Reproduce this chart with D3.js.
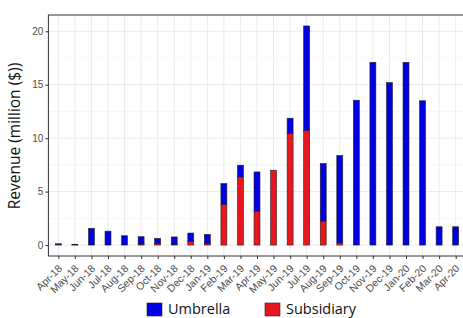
<!DOCTYPE html>
<html><head><meta charset="utf-8">
<script src="https://cdn.jsdelivr.net/npm/d3@7"></script>
<style>body{margin:0;background:#fff}svg{display:block}</style>
</head><body>
<svg id="c" width="463" height="318"></svg>
<script>
const months = ["Apr-18","May-18","Jun-18","Jul-18","Aug-18","Sep-18","Oct-18","Nov-18","Dec-18","Jan-19","Feb-19","Mar-19","Apr-19","May-19","Jun-19","Jul-19","Aug-19","Sep-19","Oct-19","Nov-19","Dec-19","Jan-20","Feb-20","Mar-20","Apr-20"];
const subsidiary = [0.04,0.02,0,0,0,0.1,0.15,0.06,0.32,0.15,3.8,6.37,3.17,7.0,10.42,10.73,2.24,0.2,0,0,0,0,0,0,0];
const umbrella   = [0.08,0.05,1.56,1.3,0.87,0.68,0.47,0.7,0.8,0.85,1.95,1.1,3.67,0,1.45,9.77,5.38,8.17,13.55,17.1,15.2,17.1,13.5,1.71,1.71];
const yTicks = [0,5,10,15,20];
const yMinor = [2.5,7.5,12.5,17.5];
const seriesNames = ["Umbrella","Subsidiary"];
const colors = {Umbrella:"#0000e0", Subsidiary:"#e8171f"};

const svg = d3.select("#c");
const L = 48.4, R = 465.6, T = 15, B = 256;
const x = d3.scalePoint().domain(months).range([L,R]).padding(0.6);
const y = d3.scaleLinear().domain([-1.025,21.525]).range([B,T]);
const bw = x.step()*0.36;

const g = svg.append("g");
g.selectAll(".mn").data(yMinor).join("line")
  .attr("x1",L).attr("x2",R).attr("y1",d=>y(d)).attr("y2",d=>y(d))
  .attr("stroke","#f3f3f3").attr("stroke-width",0.6);
g.selectAll(".mj").data(yTicks).join("line")
  .attr("x1",L).attr("x2",R).attr("y1",d=>y(d)).attr("y2",d=>y(d))
  .attr("stroke","#ebebeb").attr("stroke-width",1);
g.selectAll(".vx").data(months).join("line")
  .attr("x1",d=>x(d)).attr("x2",d=>x(d)).attr("y1",T).attr("y2",B)
  .attr("stroke","#ebebeb").attr("stroke-width",1);

const rows = months.map((m,i)=>({m, Subsidiary:subsidiary[i], Umbrella:umbrella[i]}));
const stack = d3.stack().keys(["Subsidiary","Umbrella"])(rows);
stack.forEach(layer=>{
  g.selectAll(null).data(layer).join("rect")
    .attr("x",d=>x(d.data.m)-bw/2).attr("width",bw)
    .attr("y",d=>y(d[1])).attr("height",d=>Math.max(0,y(d[0])-y(d[1])))
    .attr("fill",colors[layer.key]).attr("stroke","#222").attr("stroke-width",0.6);
});

g.append("rect").attr("x",L).attr("y",T).attr("width",R-L).attr("height",B-T)
  .attr("fill","none").attr("stroke","#333").attr("stroke-width",1);

const ya = svg.append("g").attr("transform",`translate(${L},0)`)
  .call(d3.axisLeft(y).tickValues(yTicks).tickSize(3).tickPadding(2).tickFormat(d3.format("d")));
ya.select(".domain").remove();
ya.selectAll("line").attr("stroke","#333");
ya.selectAll("text").attr("fill","#4d4d4d").style("font-family","Liberation Sans, Arial, sans-serif").style("font-size","10px");

const xa = svg.append("g").attr("transform",`translate(0,${B})`)
  .call(d3.axisBottom(x).tickSize(3).tickPadding(2));
xa.select(".domain").remove();
xa.selectAll("line").attr("stroke","#333");
xa.selectAll("text").attr("fill","#4d4d4d").style("font-family","Liberation Sans, Arial, sans-serif").style("font-size","10.5px")
  .attr("text-anchor","end").attr("dy","0").attr("y",0)
  .attr("transform","translate(4,13) rotate(-45)");

svg.append("text").attr("transform","translate(20,136) rotate(-90)")
  .attr("text-anchor","middle").attr("fill","#111")
  .style("font-family","Open Sans, sans-serif").style("font-size","15.5px")
  .text("Revenue (million ($))");

const lg = svg.append("g");
const lx = [147, 265];
seriesNames.forEach((s,i)=>{
  lg.append("rect").attr("x",lx[i]).attr("y",303).attr("width",15).attr("height",13)
    .attr("fill",colors[s]).attr("stroke","#222").attr("stroke-width",0.6);
  lg.append("text").attr("x",lx[i]+21).attr("y",313.5).attr("fill","#111")
    .style("font-family","Open Sans, sans-serif").style("font-size","14.5px").text(s);
});
</script>
</body></html>
